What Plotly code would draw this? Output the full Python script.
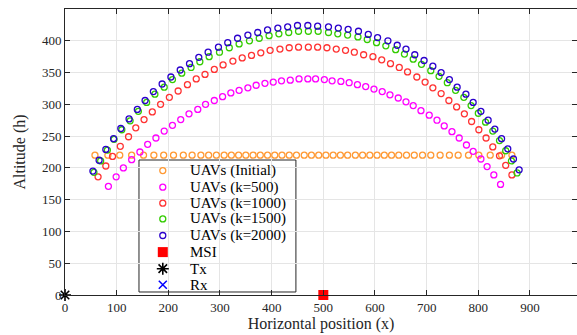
import plotly.graph_objects as go

# UAV horizontal positions (x) and altitudes (h) for each configuration
x_init = [58, 83, 106, 129, 152, 172, 191, 210, 229, 246, 263, 278, 293, 308, 322, 336, 350,
          364, 378, 392, 406, 420, 434, 448, 463, 477, 491, 505, 519, 533, 547, 562, 576,
          590, 604, 618, 632, 646, 661, 676, 692, 708, 726, 744, 761, 781, 801, 823, 845, 865]
h_init = [220] * len(x_init)

x_k500 = [84, 99, 113, 129, 145, 160, 176, 192, 208, 224, 240, 257, 272, 289, 305, 321, 337,
          354, 370, 387, 403, 419, 436, 453, 470, 485, 502, 517, 534, 550, 566, 582, 598,
          614, 629, 645, 660, 674, 689, 705, 720, 734, 749, 763, 777, 790, 805, 817, 830, 843]
h_k500 = [171, 186, 200, 213, 225, 237, 247, 258, 267, 276, 285, 292, 300, 306, 312, 318, 322,
          326, 330, 333, 335, 337, 338, 340, 340, 340, 339, 337, 336, 334, 331, 328, 324,
          320, 315, 310, 304, 298, 290, 283, 275, 266, 257, 247, 236, 226, 214, 202, 189, 174]

x_k1000 = [64, 79, 92, 107, 123, 137, 153, 169, 185, 202, 219, 237, 254, 271, 289, 306, 325,
           343, 361, 379, 397, 416, 434, 452, 471, 489, 507, 525, 543, 560, 578, 596, 613,
           630, 647, 663, 681, 697, 712, 728, 743, 758, 773, 787, 801, 815, 828, 841, 853, 865]
h_k1000 = [186, 203, 218, 234, 249, 263, 276, 288, 300, 311, 321, 331, 340, 347, 355, 362, 368,
           373, 377, 381, 385, 387, 389, 390, 390, 390, 389, 387, 385, 382, 378, 375, 370,
           364, 358, 351, 343, 335, 326, 317, 306, 296, 285, 273, 260, 247, 233, 219, 204, 189]

x_k1500 = [56, 69, 82, 95, 110, 126, 142, 158, 174, 192, 208, 226, 244, 261, 279, 299, 318,
           337, 357, 376, 395, 414, 433, 452, 471, 490, 510, 528, 547, 567, 585, 603, 621,
           640, 657, 674, 690, 708, 724, 740, 756, 772, 786, 800, 814, 828, 841, 853, 864, 875]
h_k1500 = [193, 211, 228, 245, 260, 274, 289, 303, 316, 327, 339, 349, 358, 367, 375, 382, 389,
           395, 400, 404, 408, 411, 413, 415, 415, 415, 413, 411, 409, 406, 402, 397, 392,
           386, 379, 371, 363, 353, 344, 334, 322, 311, 298, 286, 272, 258, 243, 227, 211, 192]

x_k2000 = [54, 66, 79, 94, 108, 124, 140, 155, 171, 188, 205, 223, 241, 259, 277, 297, 315,
           334, 354, 373, 392, 412, 431, 450, 470, 489, 510, 529, 548, 568, 587, 605, 625,
           643, 660, 677, 695, 712, 728, 744, 759, 776, 790, 805, 819, 832, 845, 857, 868, 879]
h_k2000 = [195, 212, 229, 246, 262, 277, 292, 306, 320, 332, 343, 354, 364, 374, 382, 390, 397,
           404, 409, 413, 417, 420, 422, 424, 424, 423, 422, 420, 418, 415, 410, 405, 400,
           393, 387, 378, 369, 360, 350, 339, 327, 316, 303, 289, 275, 261, 246, 230, 214, 197]

# Ground nodes
msi_x, msi_y = [500], [0]
tx_x, tx_y = [0], [0]
rx_x, rx_y = [1000], [0]

x_ticks = list(range(0, 1000, 100))
y_ticks = list(range(0, 401, 50))

SERIF = "Liberation Serif, Times New Roman, serif"
AXIS_COLOR = "#262626"

circle_style = dict(symbol="circle-open", size=6)
series = [
    ("UAVs (Initial)", x_init, h_init, dict(circle_style, color="#FF9933", line=dict(width=1.3, color="#FF9933"))),
    ("UAVs (k=500)", x_k500, h_k500, dict(circle_style, color="#FF00FF", line=dict(width=1.3, color="#FF00FF"))),
    ("UAVs (k=1000)", x_k1000, h_k1000, dict(circle_style, color="#FF3333", line=dict(width=1.3, color="#FF3333"))),
    ("UAVs (k=1500)", x_k1500, h_k1500, dict(circle_style, color="#33CC00", line=dict(width=1.3, color="#33CC00"))),
    ("UAVs (k=2000)", x_k2000, h_k2000, dict(circle_style, color="#2B00CC", line=dict(width=1.3, color="#2B00CC"))),
    ("MSI", msi_x, msi_y, dict(symbol="square", size=10, color="#FF0000")),
    ("Tx", tx_x, tx_y, dict(symbol="asterisk-open", size=10, color="black", line=dict(width=1.6, color="black"))),
    ("Rx", rx_x, rx_y, dict(symbol="x-thin-open", size=8, color="#0000FF", line=dict(width=1.5, color="#0000FF"))),
]

fig = go.Figure()
for name, xs, ys, marker in series:
    fig.add_trace(go.Scatter(
        x=xs, y=ys, mode="markers", name=name, marker=marker,
        cliponaxis=name not in ("MSI", "Tx"), showlegend=False,
    ))

# Boxed key in the lower-left part of the axes (drawn on a 0..1 overlay axis)
key_left, key_right, key_bottom, key_top = 0.1445, 0.451, 0.0105, 0.472
key_symbol_x, key_text_x = 0.191, 0.240
key_rows = [0.435, 0.377, 0.321, 0.266, 0.208, 0.150, 0.092, 0.036]

fig.add_shape(type="rect", xref="paper", yref="paper",
              x0=key_left, x1=key_right, y0=key_bottom, y1=key_top,
              fillcolor="white", line=dict(color=AXIS_COLOR, width=1), layer="between")
for (name, _, _, marker), ky in zip(series, key_rows):
    fig.add_trace(go.Scatter(
        x=[key_symbol_x], y=[ky], mode="markers", marker=marker,
        xaxis="x2", yaxis="y2", showlegend=False, hoverinfo="skip",
    ))
    fig.add_annotation(x=key_text_x, y=ky, xref="paper", yref="paper", text=name,
                       showarrow=False, xanchor="left", yanchor="middle",
                       font=dict(family=SERIF, size=15, color="black"))

axis_common = dict(
    showline=True, linecolor=AXIS_COLOR, linewidth=1, mirror="ticks",
    ticks="inside", ticklen=5, tickcolor=AXIS_COLOR, tickwidth=1,
    showgrid=True, gridcolor="#E5E5E5", gridwidth=1, zeroline=False,
    tickfont=dict(family=SERIF, size=13, color=AXIS_COLOR),
)

fig.update_layout(
    width=577, height=335,
    margin=dict(l=65, r=0, t=9, b=40, autoexpand=False),
    paper_bgcolor="white", plot_bgcolor="white",
    showlegend=False,
    xaxis=dict(range=[0, 991], tickvals=x_ticks,
               title=dict(text="Horizontal position (x)", font=dict(family=SERIF, size=16, color=AXIS_COLOR), standoff=4),
               **axis_common),
    yaxis=dict(range=[0, 450], tickvals=y_ticks,
               title=dict(text="Altitude (h)", font=dict(family=SERIF, size=16, color=AXIS_COLOR), standoff=12),
               **axis_common),
    xaxis2=dict(range=[0, 1], overlaying="x", visible=False, fixedrange=True),
    yaxis2=dict(range=[0, 1], overlaying="y", visible=False, fixedrange=True),
)

fig.write_html("out.html")
